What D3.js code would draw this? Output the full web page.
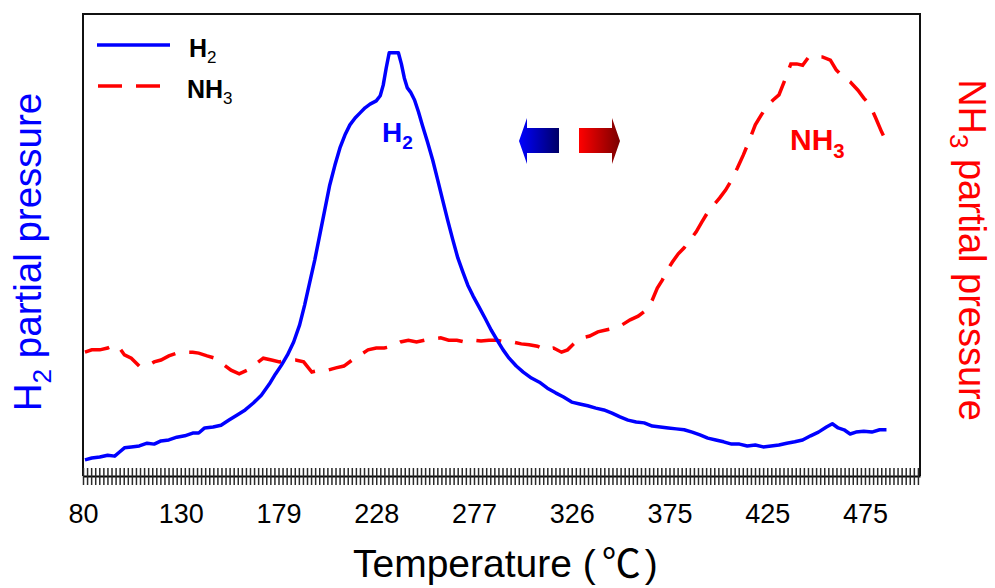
<!DOCTYPE html>
<html>
<head>
<meta charset="utf-8">
<script src="https://cdn.jsdelivr.net/npm/d3@7"></script>
<style>
  body { margin: 0; background: #fff; }
  svg { font-family: "Liberation Sans", Arial, sans-serif; }
</style>
</head>
<body>
<svg id="chart" width="995" height="588"></svg>
<script>
// tick labels on the temperature axis (evenly spaced on the page)
const tickTemps = [80, 130, 179, 228, 277, 326, 375, 425, 475];

// H2 signal (left axis, arbitrary units)
const h2Temp = [81, 84.5, 88.6, 92.6, 96.2, 98.7, 101.2, 104.7, 108.8, 112.8, 116.4, 119.9, 123.9, 128, 132, 136, 139, 142, 146.2, 150.2,
  154.2, 158.3, 162.3, 166.4, 170.4, 174.4, 177.5, 180.5, 183.5, 186.6, 189.6, 192.1, 194.6, 197.2, 199.7, 202.2, 204.7, 207.3, 209.8, 212.3,
  214.8, 217.4, 219.9, 222.4, 224.9, 228, 230, 231.5, 233, 234.5, 237.1, 239.1, 240.6, 242.1, 243.6, 245.2, 247.2, 249.2, 251.2, 253.7,
  256.3, 258.8, 261.3, 263.8, 266.4, 268.9, 271.4, 273.9, 276.5, 279.5, 282.5, 285.6, 288.6, 291.6, 294.6, 298.2, 301.7, 305.8, 309.8, 313.8,
  317.9, 321.9, 326, 330, 334, 338.1, 342.1, 346.2, 350.2, 354.2, 358.3, 362.3, 366.4, 370.4, 374.4, 378.5, 382.5, 386.6, 390.6, 394.6,
  398.7, 402.7, 406.8, 410.8, 414.8, 418.9, 422.9, 427, 431, 435, 439.1, 443.1, 447.2, 451.2, 455.3, 458.3, 461.3, 464.3, 467.4, 470.4,
  474.4, 478.5, 482.5, 486];
const h2Value = [3.5, 3.9, 4.1, 4.5, 4.3, 5.2, 6.1, 6.3, 6.5, 7.1, 6.9, 7.6, 7.8, 8.4, 8.7, 9.3, 9.3, 10.4, 10.6, 11.0,
  12.1, 13.2, 14.3, 15.8, 17.5, 19.9, 22.1, 24.0, 26.2, 29.0, 32.7, 37.0, 41.8, 46.8, 52.2, 57.6, 63.0, 67.3, 71.0, 73.8,
  76.0, 77.5, 78.6, 79.7, 80.5, 81.2, 82.3, 84.6, 88.3, 91.6, 91.6, 91.6, 89.2, 86.1, 84.0, 83.1, 81.4, 78.8, 75.8, 72.3,
  68.4, 64.1, 59.7, 55.4, 51.1, 47.2, 44.2, 41.3, 39.0, 36.6, 34.2, 31.6, 29.4, 27.3, 25.5, 23.8, 22.5, 21.2, 20.3, 19.0,
  18.0, 17.1, 16.0, 15.6, 15.2, 14.7, 14.3, 13.6, 12.8, 12.1, 11.7, 11.5, 10.8, 10.6, 10.4, 10.2, 10.0, 9.5, 8.9, 8.2,
  7.8, 7.4, 6.9, 6.9, 6.5, 6.7, 6.3, 6.5, 6.7, 7.1, 7.4, 7.8, 8.7, 9.5, 10.6, 11.3, 10.4, 10.0, 9.1, 9.5,
  9.7, 9.5, 10.0, 10.0];

// NH3 signal (right axis, arbitrary units)
const nh3Temp = [81, 84.5, 88.6, 92.6, 96.2, 98.7, 101.2, 104.7, 108.8, 112.8, 116.4, 119.9, 123.9, 128, 132, 136, 139, 143.2, 147.2, 151.2,
  155.2, 159.3, 163.3, 167.4, 171.4, 175.5, 179.5, 183.5, 187.6, 191.6, 195.7, 199.7, 203.7, 207.8, 211.8, 215.9, 219.9, 223.9, 228, 232,
  236.1, 240.1, 244.1, 248.2, 252.2, 256.3, 260.3, 264.3, 268.4, 272.4, 276.5, 280.5, 284.5, 288.6, 292.6, 296.7, 300.7, 304.7, 308.8, 312.8,
  316.9, 320.9, 323.9, 327, 331, 335, 339.1, 343.1, 347.2, 351.2, 355.3, 359.3, 363.3, 366.4, 368.9, 371.4, 373.9, 376.5, 379.5, 382.5,
  385.6, 388.6, 391.6, 394.6, 397.7, 400.7, 403.7, 406.8, 409.8, 412.8, 415.9, 418.9, 421.9, 424.9, 428, 431, 434, 437.1, 440.1, 443.1,
  446.2, 449.7, 453.2, 457.3, 460.3, 463.3, 467.4, 471.4, 474.4, 477.5, 480.5, 483.5, 485.6];
const nh3Value = [26.8, 27.3, 27.3, 27.7, 28.4, 27.7, 26.2, 25.5, 23.8, 23.8, 24.7, 25.1, 26.0, 26.6, 26.8, 26.8, 26.6, 26.0, 25.5, 24.2,
  22.9, 22.1, 22.9, 24.2, 25.5, 25.1, 24.7, 25.1, 25.1, 24.7, 22.5, 22.9, 22.9, 23.4, 23.8, 25.1, 26.2, 27.3, 27.7, 27.7,
  28.1, 29.0, 29.4, 29.0, 29.4, 29.7, 29.9, 29.4, 29.4, 29.0, 29.4, 29.2, 29.4, 29.4, 29.0, 29.0, 28.6, 28.4, 28.1, 27.3,
  27.7, 26.8, 27.3, 28.6, 29.9, 30.3, 31.2, 31.6, 32.0, 32.7, 33.8, 34.6, 35.9, 38.1, 40.7, 42.4, 44.6, 46.3, 48.1, 49.4,
  51.1, 52.8, 55.0, 57.1, 58.7, 60.2, 61.9, 64.1, 66.7, 69.5, 72.7, 76.0, 78.1, 80.1, 81.4, 82.5, 85.7, 89.2, 89.2, 88.9,
  90.7, 90.7, 90.7, 90.0, 87.9, 86.6, 85.3, 83.5, 81.8, 80.3, 77.5, 74.5, 72.7];

const margin = { top: 14, right: 75, bottom: 112, left: 83 };
const width = 995 - margin.left - margin.right;
const height = 588 - margin.top - margin.bottom;
const step = width / 8.563;   // page distance between two labelled ticks

const svg = d3.select("#chart");
const g = svg.append("g").attr("transform", `translate(${margin.left},${margin.top})`);

// the labels are evenly spaced, so a piecewise linear scale through them
const x = d3.scaleLinear()
  .domain(tickTemps)
  .range(tickTemps.map((d, i) => i * step));
const yL = d3.scaleLinear().domain([0, 100]).range([height, 0]);
const yR = d3.scaleLinear().domain([0, 100]).range([height, 0]);

// gradient fills for the two arrows
const defs = svg.append("defs");
const grads = [["gradBlue", "#0000ff", "#000066"], ["gradRed", "#ff0000", "#7a0000"]];
grads.forEach(([id, c0, c1]) => {
  const lg = defs.append("linearGradient").attr("id", id).attr("x1", "0%").attr("x2", "100%");
  lg.append("stop").attr("offset", "0%").attr("stop-color", c0);
  lg.append("stop").attr("offset", "100%").attr("stop-color", c1);
});

// frame (left, top, right)
g.append("path")
  .attr("d", `M0,${height}V0H${width}V${height}`)
  .attr("fill", "none")
  .attr("stroke", "#111")
  .attr("stroke-width", 2);

// minor ticks crossing the baseline
const minor = d3.scaleLinear().domain([0, 8.563]).range([0, width]);
const minorAxis = d3.axisBottom(minor)
  .tickValues(d3.range(0, 8.563, 1 / 24))
  .tickSizeInner(9)
  .tickSizeOuter(0)
  .tickFormat("");
const ma = g.append("g").attr("transform", `translate(0,${height})`).call(minorAxis);
ma.selectAll(".tick line").attr("y1", -8).attr("stroke", "#2a2a2a").attr("stroke-width", 1.5);
ma.select(".domain").attr("stroke", "#000").attr("stroke-width", 2);

// labelled ticks
const xAxis = d3.axisBottom(x)
  .tickValues(tickTemps)
  .tickFormat(d3.format("d"))
  .tickSize(0)
  .tickPadding(28);
const xa = g.append("g").attr("transform", `translate(0,${height})`).call(xAxis);
xa.select(".domain").remove();
xa.selectAll("text")
  .attr("font-size", 27)
  .attr("font-family", "Liberation Sans, Arial, sans-serif")
  .attr("fill", "#000");

// curves
const h2Line = d3.line().x(d => x(d[0])).y(d => yL(d[1])).curve(d3.curveLinear);
const nh3Line = d3.line().x(d => x(d[0])).y(d => yR(d[1])).curve(d3.curveLinear);

g.append("path")
  .datum(nh3Temp.map((t, i) => [t, nh3Value[i]]))
  .attr("d", nh3Line)
  .attr("fill", "none")
  .attr("stroke", "#ff0000")
  .attr("stroke-width", 3.5)
  .attr("stroke-dasharray", "25,14");

g.append("path")
  .datum(h2Temp.map((t, i) => [t, h2Value[i]]))
  .attr("d", h2Line)
  .attr("fill", "none")
  .attr("stroke", "#0000ff")
  .attr("stroke-width", 3.5)
  .attr("stroke-linejoin", "round");

// legend
const legend = svg.append("g");
legend.append("line").attr("x1", 97).attr("x2", 170).attr("y1", 45).attr("y2", 45)
  .attr("stroke", "#0000ff").attr("stroke-width", 3.5);
legend.append("line").attr("x1", 98).attr("x2", 160).attr("y1", 86).attr("y2", 86)
  .attr("stroke", "#ff0000").attr("stroke-width", 3.5).attr("stroke-dasharray", "24,14");

function chem(sel, base, sub, size, bold, subBold) {
  sel.append("tspan").text(base).attr("font-weight", bold ? "bold" : "normal");
  sel.append("tspan").text(sub)
    .attr("font-size", size * 0.68)
    .attr("font-weight", subBold ? "bold" : "normal")
    .attr("dy", size * 0.25);
  return sel;
}
chem(legend.append("text").attr("x", 189).attr("y", 57).attr("font-size", 25), "H", "2", 25, true, false);
chem(legend.append("text").attr("x", 187).attr("y", 98).attr("font-size", 25), "NH", "3", 25, true, false);

// in-plot labels
chem(svg.append("text").attr("x", 382).attr("y", 142).attr("font-size", 28).attr("fill", "#0000ff"), "H", "2", 28, true, true);
chem(svg.append("text").attr("x", 790).attr("y", 150).attr("font-size", 30).attr("fill", "#ff0000"), "NH", "3", 30, true, true);

// arrows
const arrowBlue = "M519,141 L527,118 L527,128 L559,128 L559,153 L527,153 L527,164 Z";
const arrowRed = "M620,141 L612,118 L612,128 L579,128 L579,153 L612,153 L612,164 Z";
svg.append("path").attr("d", arrowBlue).attr("fill", "url(#gradBlue)");
svg.append("path").attr("d", arrowRed).attr("fill", "url(#gradRed)");

// axis titles
const xTitle = svg.append("text")
  .attr("x", 353)
  .attr("y", 577)
  .attr("font-size", 39);
xTitle.append("tspan").text("Temperature (");
xTitle.append("tspan").attr("font-family", "Noto Sans CJK SC").attr("dx", 6).text("℃");
xTitle.append("tspan").attr("dx", 4).text(")");

const leftTitle = svg.append("text")
  .attr("transform", "translate(41,252) rotate(-90)")
  .attr("text-anchor", "middle")
  .attr("font-size", 38.5)
  .attr("fill", "#0000ff");
chem(leftTitle, "H", "2", 38.5, false, false).append("tspan").attr("dy", -38.5 * 0.25).text(" partial pressure");

const rightTitle = svg.append("text")
  .attr("transform", "translate(959,250) rotate(90)")
  .attr("text-anchor", "middle")
  .attr("font-size", 38)
  .attr("fill", "#ff0000");
chem(rightTitle, "NH", "3", 38, false, false).append("tspan").attr("dy", -38 * 0.25).text(" partial pressure");
</script>
</body>
</html>
